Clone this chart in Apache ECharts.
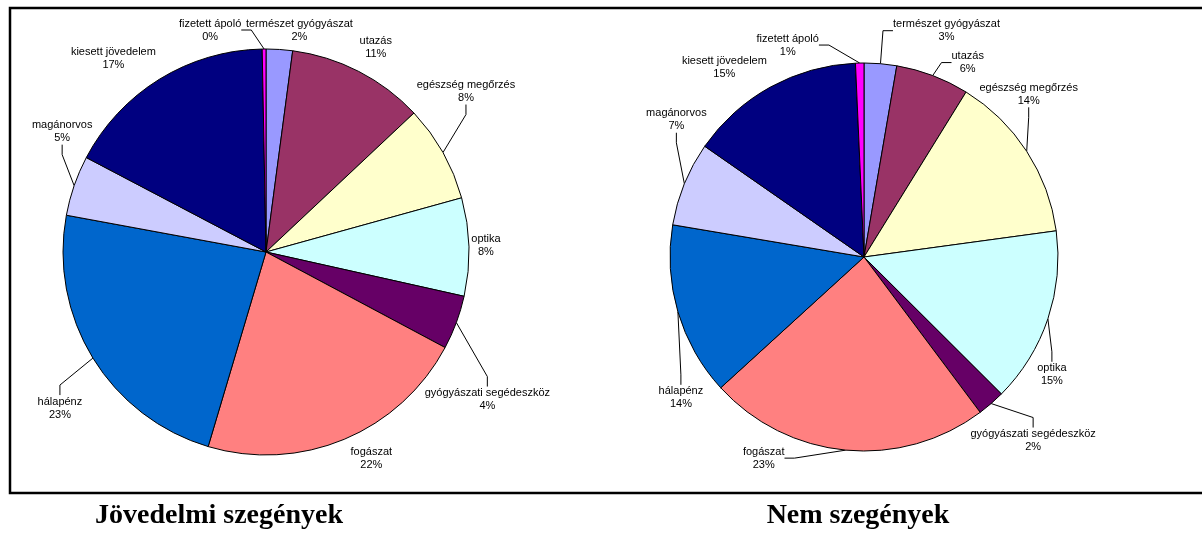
<!DOCTYPE html>
<html>
<head>
<meta charset="UTF-8" />
<title>Jövedelmi szegények / Nem szegények</title>
<script src="https://cdn.jsdelivr.net/npm/echarts@6/dist/echarts.min.js"></script>
<style>
  html, body { margin: 0; padding: 0; background: #fff; }
  #chart { width: 1202px; height: 534px; }
</style>
</head>
<body>
<div id="chart"></div>
<script>
// kategóriák (12 órától az óramutató járásával)
var categories = ['természet gyógyászat', 'utazás', 'egészség megőrzés', 'optika',
  'gyógyászati segédeszköz', 'fogászat', 'hálapénz', 'magánorvos',
  'kiesett jövedelem', 'fizetett ápoló'];
var colors = ['#9999FF', '#993366', '#FFFFCC', '#CCFFFF', '#660066',
  '#FF8080', '#0066CC', '#CCCCFF', '#000080', '#FF00FF'];
// részesedés, %
var szegenyek = [2.1, 10.9, 7.7, 7.8, 4.3, 21.8, 23.3, 4.8, 17.0, 0.3];
var nemSzegenyek = [2.7, 6.1, 14.0, 14.6, 2.3, 23.4, 14.4, 7.0, 14.6, 0.7];
var titles = ['Jövedelmi szegények', 'Nem szegények'];

// címkék eltolása a körcikk ívének közepétől (px) - csak elrendezés
var offsLeft = [[20, -19], [17, -24], [23, -61], [17, -1], [31, 77],
  [27, 19], [-33, 50], [-12, -54], [-46, -21], [-54, -19]];
var offsRight = [[66, -33], [35, -13], [2, -57], [4, 56], [42, 37],
  [-82, 8], [3, 86], [-8, -64], [-46, -20], [-72, -18]];
// vezetővonal látszik-e
var lineLeft = [false, false, true, false, true, false, true, true, false, true];
var lineRight = [true, true, true, true, true, true, true, true, false, true];

var myChart = echarts.init(document.getElementById('chart'));

function toData(vals, lines) {
  var out = [];
  for (var i = 0; i < categories.length; i++) {
    out.push({
      name: categories[i], value: vals[i],
      itemStyle: { color: colors[i] },
      labelLine: { show: lines[i] }
    });
  }
  return out;
}

function pieSeries(vals, center, radius, offs, lines) {
  var sum = 0;
  for (var i = 0; i < vals.length; i++) sum += vals[i];
  return {
    type: 'pie',
    center: center,
    radius: radius,
    startAngle: 90,
    clockwise: true,
    animation: false,
    silent: true,
    avoidLabelOverlap: false,
    data: toData(vals, lines),
    itemStyle: { borderColor: '#000', borderWidth: 1 },
    label: {
      show: true,
      position: 'outside',
      color: '#000',
      fontFamily: 'Liberation Sans, Arial, sans-serif',
      fontSize: 11,
      lineHeight: 13,
      overflow: 'none',
      formatter: function (p) { return p.name + '\n' + Math.round(p.percent) + '%'; }
    },
    labelLine: {
      show: true,
      length: 8,
      length2: 10,
      lineStyle: { color: '#000', width: 1 }
    },
    labelLayout: function (p) {
      var idx = p.dataIndex;
      var cum = 0;
      for (var k = 0; k < idx; k++) cum += vals[k];
      var mid = (cum + vals[idx] / 2) / sum * Math.PI * 2;
      var ax = center[0] + radius * Math.sin(mid);
      var ay = center[1] - radius * Math.cos(mid);
      return {
        x: ax + offs[idx][0],
        y: ay + offs[idx][1],
        align: 'center',
        verticalAlign: 'middle'
      };
    }
  };
}

var titleStyle = { fontFamily: 'Liberation Serif, Times New Roman, serif', fontSize: 28, fontWeight: 'bold', color: '#000' };

myChart.setOption({
  backgroundColor: '#fff',
  title: [
    { text: titles[0], left: 214, top: 497, textAlign: 'center', textStyle: titleStyle },
    { text: titles[1], left: 853, top: 497, textAlign: 'center', textStyle: titleStyle }
  ],
  graphic: [{
    type: 'rect',
    shape: { x: 10, y: 8, width: 1210, height: 485 },
    style: { fill: 'none', stroke: '#000', lineWidth: 2.5 },
    silent: true
  }],
  series: [
    pieSeries(szegenyek, [266, 252], 203, offsLeft, lineLeft),
    pieSeries(nemSzegenyek, [864, 257], 194, offsRight, lineRight)
  ]
});
</script>
</body>
</html>
